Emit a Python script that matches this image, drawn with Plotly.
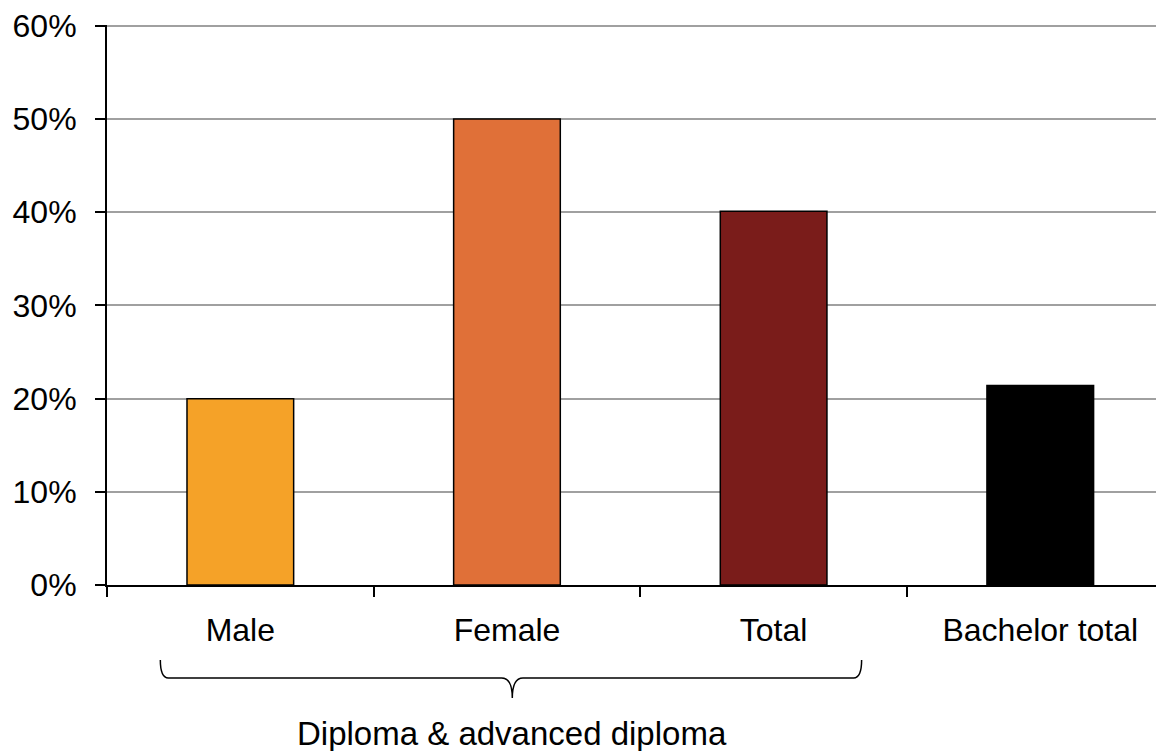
import plotly.graph_objects as go

categories = ["Male", "Female", "Total", "Bachelor total"]
values = [0.20, 0.50, 0.401, 0.214]
colors = ["#F5A228", "#E07038", "#7A1C1A", "#000000"]
group_label = "Diploma & advanced diploma"
y_ticks = [0.0, 0.1, 0.2, 0.3, 0.4, 0.5, 0.6]
y_ticklabels = ["0%", "10%", "20%", "30%", "40%", "50%", "60%"]

fig = go.Figure()
fig.add_trace(go.Bar(
    x=categories, y=values, width=0.4,
    marker=dict(color=colors, line=dict(color="#000000", width=1.5)),
    showlegend=False,
))

font_family = "Liberation Sans, Arial, sans-serif"

# the page body has an 8px margin; compensate so the chart lines up with the window
fig.update_layout(
    width=1156, height=743,
    margin=dict(l=99, r=0, t=17, b=166),
    plot_bgcolor="white", paper_bgcolor="white",
    font=dict(family=font_family, color="#000000"),
)
fig.update_xaxes(
    type="category", range=[-0.5, 3.464],
    showline=True, linecolor="#000000", linewidth=2,
    ticks="outside", tickson="boundaries", ticklen=10, tickwidth=2, tickcolor="#000000",
    tickfont=dict(size=32, family=font_family),
    ticklabelstandoff=16,
    showgrid=False,
)
fig.update_yaxes(
    range=[0, 0.601], tickmode="array", tickvals=y_ticks, ticktext=y_ticklabels,
    showline=True, linecolor="#000000", linewidth=2,
    ticks="outside", ticklen=10, tickwidth=2, tickcolor="#000000",
    tickfont=dict(size=32, family=font_family),
    ticklabelstandoff=12, ticklabeloverflow="allow",
    showgrid=True, gridcolor="#A0A0A0", gridwidth=2,
    zeroline=False,
)

# top gridline (plotly skips the one at the plot edge)
fig.add_shape(type="line", xref="paper", yref="y", x0=0, x1=1,
              y0=y_ticks[-1], y1=y_ticks[-1], layer="below",
              line=dict(color="#A0A0A0", width=2))

# brace under the first three categories
x0, xm, x1 = -0.30, 1.02, 2.33
yt, yb, yp = -0.134, -0.166, -0.202
path = (f"M {x0},{yt} Q {x0},{yb} {x0+0.03},{yb} L {xm-0.04},{yb} "
        f"Q {xm},{yb} {xm},{yp} Q {xm},{yb} {xm+0.04},{yb} L {x1-0.03},{yb} "
        f"Q {x1},{yb} {x1},{yt}")
fig.add_shape(type="path", path=path, xref="x", yref="paper",
              line=dict(color="#000000", width=1.5))

fig.add_annotation(x=1.02, xref="x", y=-0.265, yref="paper", yanchor="middle",
                   text=group_label, showarrow=False,
                   font=dict(size=33, family=font_family, color="#000000"))

fig.write_html("out.html")
